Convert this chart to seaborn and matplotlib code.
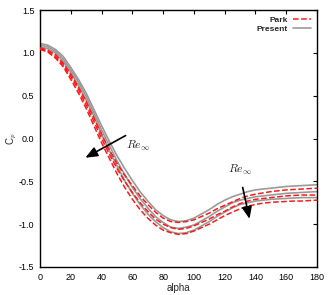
import matplotlib
matplotlib.use("Agg")
import matplotlib.pyplot as plt
import seaborn as sns
import pandas as pd

# angle along the cylinder surface (deg)
alpha = list(range(0, 185, 5))

# present results, three Reynolds numbers (low -> high)
present_1 = [1.11, 1.09, 1.04, 0.96, 0.83, 0.69, 0.53, 0.34, 0.15, -0.03, -0.20, -0.35, -0.49,
             -0.62, -0.73, -0.83, -0.90, -0.95, -0.97, -0.96, -0.93, -0.88, -0.83, -0.77, -0.72,
             -0.68, -0.65, -0.62, -0.60, -0.59, -0.58, -0.57, -0.56, -0.555, -0.55, -0.545, -0.54]
present_2 = [1.09, 1.07, 1.02, 0.93, 0.80, 0.66, 0.49, 0.30, 0.10, -0.08, -0.26, -0.42, -0.57,
             -0.70, -0.81, -0.91, -0.98, -1.035, -1.05, -1.035, -1.01, -0.96, -0.91, -0.85, -0.80,
             -0.75, -0.72, -0.70, -0.68, -0.67, -0.66, -0.65, -0.64, -0.635, -0.63, -0.625, -0.62]
present_3 = [1.07, 1.05, 1.00, 0.90, 0.77, 0.62, 0.45, 0.26, 0.05, -0.14, -0.32, -0.49, -0.64,
             -0.77, -0.88, -0.97, -1.04, -1.09, -1.11, -1.10, -1.07, -1.02, -0.97, -0.91, -0.86,
             -0.81, -0.77, -0.75, -0.73, -0.72, -0.71, -0.705, -0.70, -0.695, -0.69, -0.69, -0.69]

# Park et al. reference data
park_1 = [1.06, 1.03, 0.98, 0.88, 0.75, 0.60, 0.43, 0.24, 0.05, -0.13, -0.29, -0.43, -0.55,
          -0.67, -0.77, -0.86, -0.93, -0.97, -0.98, -0.97, -0.95, -0.91, -0.87, -0.82, -0.78,
          -0.74, -0.70, -0.67, -0.65, -0.635, -0.62, -0.61, -0.60, -0.595, -0.59, -0.585, -0.58]
park_2 = [1.05, 1.02, 0.96, 0.86, 0.72, 0.57, 0.39, 0.20, 0.00, -0.18, -0.35, -0.50, -0.63,
          -0.75, -0.85, -0.94, -1.00, -1.04, -1.06, -1.05, -1.02, -0.98, -0.94, -0.89, -0.85,
          -0.80, -0.76, -0.73, -0.71, -0.70, -0.69, -0.68, -0.67, -0.665, -0.66, -0.66, -0.66]
park_3 = [1.04, 1.01, 0.94, 0.84, 0.69, 0.53, 0.35, 0.15, -0.05, -0.23, -0.41, -0.57, -0.71,
          -0.83, -0.93, -1.01, -1.07, -1.10, -1.12, -1.11, -1.08, -1.04, -1.00, -0.95, -0.90,
          -0.86, -0.82, -0.79, -0.77, -0.755, -0.745, -0.74, -0.735, -0.73, -0.73, -0.725, -0.72]

x_ticks = [0, 20, 40, 60, 80, 100, 120, 140, 160, 180]
y_ticks = [-1.5, -1.0, -0.5, 0.0, 0.5, 1.0, 1.5]

sns.set_theme(style="white")
plt.rcParams['font.family'] = ['Liberation Sans', 'DejaVu Sans']
plt.rcParams['mathtext.fontset'] = 'cm'

fig = plt.figure(figsize=(3.32, 2.95), dpi=100)
ax = fig.add_axes([0.1205, 0.095, 0.8345, 0.871])

rows = []
for i, (pr, pk) in enumerate(zip([present_1, present_2, present_3], [park_1, park_2, park_3])):
    for a, v in zip(alpha, pr):
        rows.append({'alpha': a, 'cp': v, 'source': 'Present', 're': i})
    for a, v in zip(alpha, pk):
        rows.append({'alpha': a, 'cp': v, 'source': 'Park', 're': i})
df = pd.DataFrame(rows)

# present: grey solid
for i in range(3):
    d = df[(df.source == 'Present') & (df.re == i)]
    sns.lineplot(data=d, x='alpha', y='cp', ax=ax, color='#9a9a9a', lw=1.2,
                 label='Present' if i == 0 else None, zorder=2)
# park: red dashed
for i in range(3):
    d = df[(df.source == 'Park') & (df.re == i)]
    sns.lineplot(data=d, x='alpha', y='cp', ax=ax, color='#ff1a1a', lw=1.1,
                 dashes=(2.6, 2.2), linestyle='--',
                 label='Park' if i == 0 else None, zorder=3)

ax.set_xlim(0, 180)
ax.set_ylim(-1.5, 1.5)
ax.set_xticks(x_ticks)
ax.set_yticks(y_ticks)
ax.set_yticklabels([f"{t:.1f}" for t in y_ticks])
ax.tick_params(direction='in', length=3, width=0.8, labelsize=6.5, top=True, right=True,
               colors='black', pad=4)
for s in ax.spines.values():
    s.set_color('black')
    s.set_linewidth(1.0)
ax.set_xlabel('alpha', fontsize=7, labelpad=1)
ax.set_ylabel('C$_p$', fontsize=7)
ax.yaxis.set_label_coords(-0.075, 0.5)

# legend: Park first, line sample on the right
h, l = ax.get_legend_handles_labels()
order = [l.index('Park'), l.index('Present')]
leg = ax.legend([h[k] for k in order], [l[k] for k in order], loc='upper right',
                frameon=False, markerfirst=False, handlelength=2.2,
                borderaxespad=0.3, labelspacing=0.15, handletextpad=0.6,
                prop={'weight': 'bold', 'size': 6})

# Reynolds number arrows
arrow_kw = dict(arrowstyle='-|>,head_length=0.6,head_width=0.25', color='black', lw=1.2)
ax.annotate('', xy=(27.9, -0.24), xytext=(57.2, 0.05), arrowprops=arrow_kw)
ax.text(64, -0.09, r'$Re_\infty$', fontsize=8.5, ha='center', va='center')
ax.annotate('', xy=(136.5, -0.97), xytext=(131.3, -0.54), arrowprops=arrow_kw)
ax.text(130, -0.37, r'$Re_\infty$', fontsize=8.5, ha='center', va='center')

fig.savefig('out.png', dpi=100)
